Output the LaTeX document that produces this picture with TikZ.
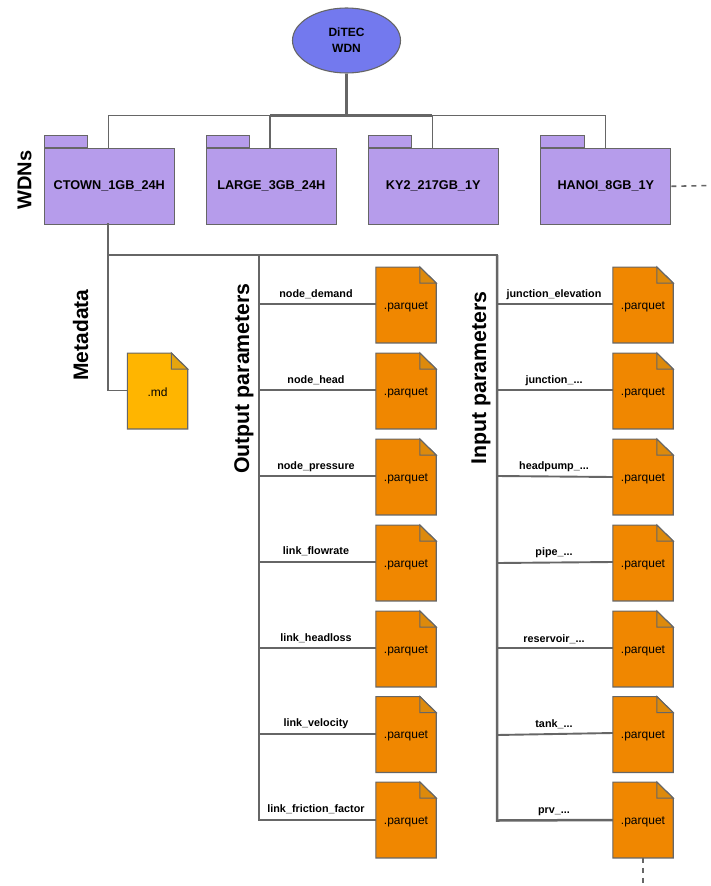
\documentclass[tikz,border=0pt]{standalone}
\usepackage{fontspec}
\setmainfont{Liberation Sans}
\usetikzlibrary{shapes.geometric}
\definecolor{ln}{HTML}{666666}
\definecolor{purp}{HTML}{B69CEB}
\definecolor{blu}{HTML}{7379EE}
\definecolor{org}{HTML}{F08700}
\definecolor{orgd}{HTML}{DD8A0C}
\definecolor{yel}{HTML}{FFB500}
\definecolor{yeld}{HTML}{E5A50F}
\newcommand{\tdots}{.{}.{}.}
\tikzset{
  x=1pt,y=-1pt,
  thin line/.style={draw=ln,line width=1.6pt},
  mid line/.style={draw=ln,line width=1.9pt},
  thick line/.style={draw=ln,line width=2.5pt},
  dash line/.style={draw=ln,line width=1.6pt,dash pattern=on 5pt off 5pt},
  outl/.style={draw=ln,line width=1.1pt,line join=miter},
  folderbox/.style={outl,fill=purp,minimum width=130pt,minimum height=75.5pt,inner sep=0pt,font=\fontsize{12.7}{14}\selectfont\bfseries},
  tabbox/.style={outl,fill=purp,minimum width=43.5pt,minimum height=12pt,inner sep=0pt},
  rootnode/.style={ellipse,outl,fill=blu,minimum width=108pt,minimum height=65pt,inner sep=0pt,align=center,font=\fontsize{12}{16}\selectfont\bfseries},
  docbox/.style={minimum width=60pt,minimum height=75.5pt,inner sep=0pt,font=\fontsize{12}{14}\selectfont},
  linklabel/.style={inner sep=0pt,font=\fontsize{10.8}{12}\selectfont\bfseries},
  sidelabel/.style={rotate=90,inner sep=0pt,font=\fontsize{21.3}{24}\selectfont\bfseries},
}
% #1 name, #2 centre, #3 text, #4 fill, #5 fold fill
\newcommand{\docshape}[5]{%
  \node[docbox] (#1) at (#2) {};
  \path[outl,fill=#4] (#1.north west) -- ([xshift=44pt]#1.north west) -- ([yshift=-16pt]#1.north east)
     -- (#1.south east) -- (#1.south west) -- cycle;
  \path[outl,fill=#5] ([xshift=44pt]#1.north west) -- ([yshift=-16pt]#1.north east)
     -- ([xshift=44pt,yshift=-16pt]#1.north west) -- cycle;
  \node[docbox,yshift=-1.5pt] at (#2) {#3};
}
\newcommand{\folder}[3]{%
  \node[tabbox,anchor=south west] (#1tab) at (#2,148) {};
  \node[folderbox,anchor=north west,text width=130pt,align=center] (#1) at (#2,148) {#3\hspace*{3pt}};
}
\begin{document}
\begin{tikzpicture}
\useasboundingbox (0,0) rectangle (711,886);
\fill[white] (0,0) rectangle (711,886);

% coordinates of the trunk lines
\coordinate (busA) at (346.5,115.5);
\coordinate (busL) at (108.4,115.5);
\coordinate (busB) at (270.2,115.5);
\coordinate (busC) at (432.3,115.5);
\coordinate (busR) at (605.5,115.5);
\coordinate (hubA) at (108,255);
\coordinate (hubB) at (259,255);
\coordinate (hubC) at (497,255);
\coordinate (mdcorner) at (108,390.5);
\coordinate (dashE) at (711,185.5);
\coordinate (dashS) at (643,886);

% root and folders
\node[rootnode] (root) at (346.5,40.5) {DiTEC\\WDN};
\folder{ctown}{43.7}{CTOWN\_1GB\_24H}
\folder{large}{205.7}{LARGE\_3GB\_24H}
\folder{ky}{367.7}{KY2\_217GB\_1Y}
\folder{hanoi}{540.3}{HANOI\_8GB\_1Y}

% connectors top
\draw[thick line] (root.south) -- (busA);
\draw[thin line] (busL |- ctown.north) -- (busL) -- (busA);
\draw[thin line] (busA) -- (busR) -- (busR |- hanoi.north);
\draw[thin line] (busB |- large.north) -- (busB);
\draw[thin line] (busC |- ky.north) -- (busC);
\draw[thick line] (busB) -- (busC);
\draw[dash line] (hanoi.east) -- (dashE);

% documents
\docshape{md}{157.5,391}{.md}{yel}{yeld}
\foreach \n/\y in {1/305,2/391,3/477,4/563,5/649,6/734.5,7/820}{
  \docshape{l\n}{406,\y}{.parquet}{org}{orgd}
  \docshape{r\n}{643,\y}{.parquet}{org}{orgd}
}

% trunk
\draw[thick line,line cap=rect] (hubA |- ctown.south) -- (hubA) -- (hubC);
\draw[mid line] (hubA) -- (mdcorner) -- (md.west |- mdcorner);
\draw[thick line] (hubB) -- (259,820) -- (l7.west);
\draw[thick line] (hubC) -- (497,820.5) -- (r7.west);

\foreach \n/\y in {1/304,2/390,3/476,4/562,5/648,6/734}{
  \coordinate (sl\n) at (259,\y);
  \draw[mid line] (sl\n) -- (sl\n -| l\n.west);
}
\foreach \n/\y/\d in {1/304/1,2/390/1,3/476/0,4/563/1,5/648/1,6/735/1.5}{
  \coordinate (sr\n) at (497,\y);
  \draw[mid line] (sr\n) -- ([yshift=\d pt]r\n.west);
}
\draw[dash line] (r7.south) -- (dashS);

% connector labels
\foreach \t/\y in {node\_demand/294.5,node\_head/380.5,node\_pressure/467,link\_flowrate/551.5,link\_headloss/638.5,link\_velocity/724,link\_friction\_factor/809.5}{
  \node[linklabel] at (316,\y) {\t};
}
\foreach \t/\y in {junction\_elevation/294.5,junction\_\tdots/380.5,headpump\_\tdots/467,pipe\_\tdots/552.5,reservoir\_\tdots/639,tank\_\tdots/724.5,prv\_\tdots/811.5}{
  \node[linklabel] at (554,\y) {\t};
}

% side labels
\node[sidelabel] (wdns) at (24.5,180) {\fontsize{20}{24}\selectfont WDNs};
\node[sidelabel] (meta) at (80.5,335) {\fontsize{21}{24}\selectfont Metadata};
\node[sidelabel] (outp) at (244,378.5) {Output parameters};
\node[sidelabel] (inp) at (481,378) {Input parameters};
\end{tikzpicture}
\end{document}
